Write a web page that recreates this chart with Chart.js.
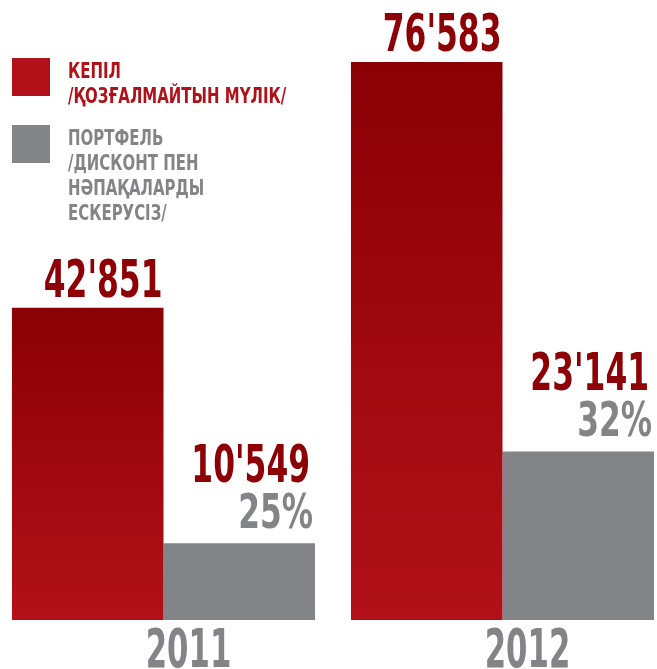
<!DOCTYPE html>
<html>
<head>
<meta charset="utf-8">
<script src="https://cdn.jsdelivr.net/npm/chart.js@4.4.1/dist/chart.umd.min.js"></script>
<style>
  html, body { margin: 0; padding: 0; background: #fff; overflow: hidden; width: 657px; height: 669px; }
  /* canvas a bit wider than the page so the two groups sit flush with the edges */
  #wrap { position: absolute; left: -6px; top: 0; width: 678px; height: 669px; }
</style>
</head>
<body>
<div id="wrap"><canvas id="myChart"></canvas></div>
<script>
// years on the x axis
var years = ['2011', '2012'];
// collateral (real estate) and portfolio, thousands
var kepil = [42851, 76583];
var portfel = [10549, 23141];
var portfelShare = [25, 32];
var legendLines = [
  ['КЕПІЛ', '/ҚОЗҒАЛМАЙТЫН МҮЛІК/'],
  ['ПОРТФЕЛЬ', '/ДИСКОНТ ПЕН', 'НӘПАҚАЛАРДЫ', 'ЕСКЕРУСІЗ/']
];

var RED_TOP = '#8a0004';
var RED_BOTTOM = '#b21119';
var RED_TEXT = '#8c0006';
var RED_LEGEND = '#b0121a';
var GREY = '#838488';
var FONT = "'DejaVu Sans', sans-serif";
var OX = 6; // canvas starts 6px left of the page

function fmt(n) {
  return String(n).replace(/\B(?=(\d{3})+(?!\d))/g, "'");
}

// bold text squeezed horizontally to a condensed look
function drawText(ctx, str, x, y, size, color, align, sx) {
  ctx.save();
  ctx.translate(x, y);
  ctx.scale(sx, 1);
  ctx.font = 'bold ' + size + 'px ' + FONT;
  ctx.fillStyle = color;
  ctx.textAlign = align;
  ctx.textBaseline = 'alphabetic';
  ctx.fillText(str, 0, 0);
  ctx.restore();
}

// vertical gradient for each red bar, from its top down to the base
function redGradient(context) {
  var chart = context.chart;
  var yScale = chart.scales.y;
  if (!chart.chartArea || !yScale) return RED_BOTTOM;
  var top = yScale.getPixelForValue(context.raw);
  var base = yScale.getPixelForValue(0);
  if (!isFinite(top) || top === base) return RED_BOTTOM;
  var g = chart.ctx.createLinearGradient(0, top, 0, base);
  g.addColorStop(0, RED_TOP);
  g.addColorStop(1, RED_BOTTOM);
  return g;
}

var labelsPlugin = {
  id: 'labelsPlugin',
  afterDatasetsDraw: function(chart) {
    var ctx = chart.ctx;
    var redMeta = chart.getDatasetMeta(0);
    var greyMeta = chart.getDatasetMeta(1);

    redMeta.data.forEach(function(bar, i) {
      var right = bar.x + bar.width / 2;
      drawText(ctx, fmt(kepil[i]), right - 1, bar.y - 11, 51, RED_TEXT, 'right', 0.615);
    });

    greyMeta.data.forEach(function(bar, i) {
      var right = bar.x + bar.width / 2;
      drawText(ctx, portfelShare[i] + '%', right - 2, bar.y - 15, 48, GREY, 'right', 0.65);
      drawText(ctx, fmt(portfel[i]), right - 5, bar.y - 61, 51, RED_TEXT, 'right', 0.615);
    });

    // year captions under each group
    var xScale = chart.scales.x;
    years.forEach(function(y, i) {
      drawText(ctx, y, xScale.getPixelForValue(i) + 25, 667, 53, GREY, 'center', 0.58);
    });

    // legend: square swatch + stacked caption lines
    var swatch = [RED_BOTTOM, GREY];
    var textCol = [RED_LEGEND, GREY];
    var blockTop = [58, 125];
    legendLines.forEach(function(lines, k) {
      ctx.fillStyle = swatch[k];
      ctx.fillRect(OX + 12, blockTop[k], 38, 38);
      lines.forEach(function(line, j) {
        drawText(ctx, line, OX + 68, blockTop[k] + 20 + j * 25, 22, textCol[k], 'left', 0.68);
      });
    });
  }
};

var ctx = document.getElementById('myChart').getContext('2d');
var myChart = new Chart(ctx, {
  type: 'bar',
  data: {
    labels: years,
    datasets: [{
      label: legendLines[0].join(' '),
      data: kepil,
      backgroundColor: redGradient,
      borderWidth: 0
    }, {
      label: legendLines[1].join(' '),
      data: portfel,
      backgroundColor: GREY,
      borderWidth: 0
    }]
  },
  options: {
    responsive: true,
    maintainAspectRatio: false,
    animation: false,
    layout: { padding: { left: 0, right: 0, top: 62, bottom: 49 } },
    datasets: { bar: { categoryPercentage: 0.894, barPercentage: 1 } },
    scales: {
      x: { display: false },
      y: { display: false, min: 0, max: Math.max.apply(null, kepil) }
    },
    plugins: {
      legend: { display: false },
      tooltip: { enabled: false }
    }
  },
  plugins: [labelsPlugin]
});
</script>
</body>
</html>
